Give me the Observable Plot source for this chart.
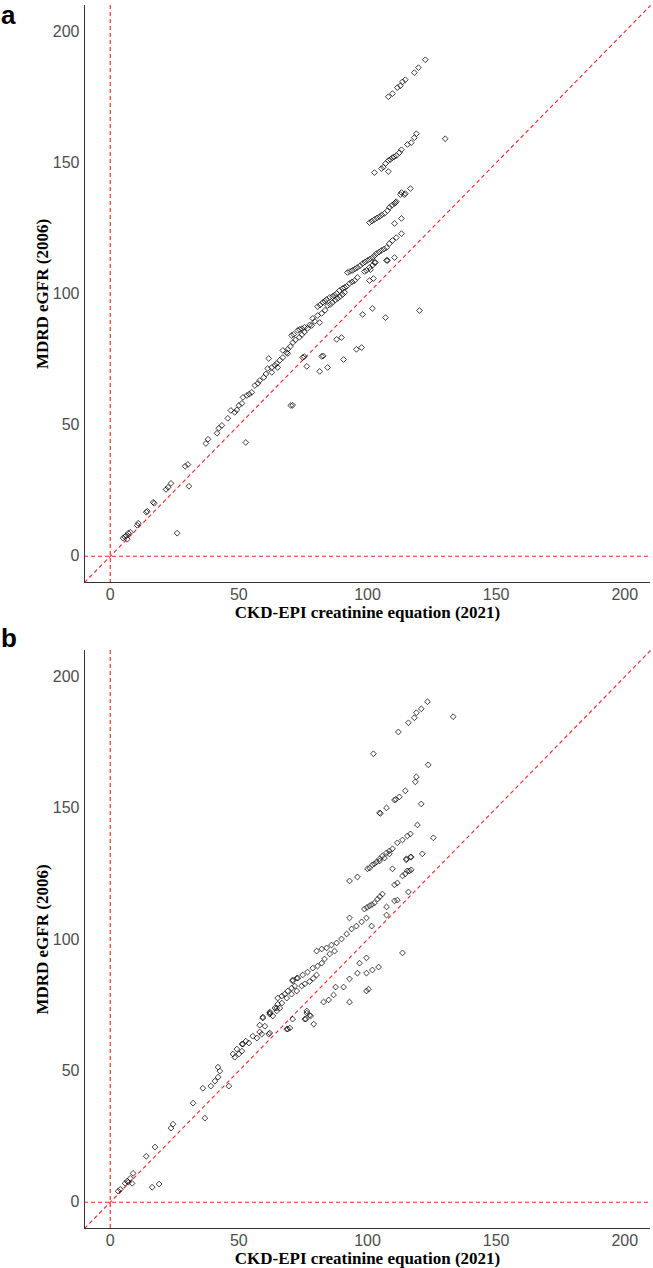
<!DOCTYPE html>
<html>
<head>
<meta charset="utf-8">
<script src="https://cdn.jsdelivr.net/npm/d3@7"></script>
<script src="https://cdn.jsdelivr.net/npm/@observablehq/plot@0.6"></script>
<style>
  html, body { margin: 0; padding: 0; background: #fff; }
  #wrap { position: relative; width: 653px; height: 1268px; overflow: hidden; background: #fff; }
  .tag { position: absolute; left: 1px; font: bold 26px/30px "Liberation Sans", Arial, sans-serif; color: #000; }
  #pa, #pb { position: absolute; left: 0; }
  #pa { top: 0; }
  #pb { top: 645px; }
</style>
</head>
<body>
<div id="wrap">
  <div id="pa"></div>
  <div id="pb"></div>
  <div class="tag" style="top:0px">a</div>
  <div class="tag" style="top:623px">b</div>
</div>
<script>
const panelTags = ["a", "b"];
const xTitle = "CKD-EPI creatinine equation (2021)";
const yTitle = "MDRD eGFR (2006)";
const axisTicks = [0, 50, 100, 150, 200];
const axisLimits = [-10, 210];

// Panel a: [CKD-EPI 2021, MDRD 2006]
const pointsA = [
  [5.0,6.9],[5.6,7.4],[6.2,7.8],[6.6,6.5],[7.0,8.8],[7.8,9.1],[10.5,11.8],[10.9,12.6],[14.0,16.8],[14.4,17.2],
  [16.7,20.6],[17.1,20.2],[21.7,25.5],[22.5,26.3],[23.6,27.8],[29.1,34.3],[30.2,35.0],[30.6,26.7],[26.0,8.8],
  [37.2,43.0],[38.0,44.6],[41.5,46.9],[42.2,48.8],[43.4,49.9],[45.7,52.6],[46.9,55.6],[48.4,54.9],[49.2,55.8],
  [50.0,57.5],[51.2,58.3],[52.7,43.4],[70.2,57.5],[70.9,57.6],
  [51.6,60.6],[53.1,61.3],[54.0,61.8],[55.0,62.5],[56.2,65.1],[57.4,65.9],[58.1,67.0],[59.7,68.2],[60.5,69.5],
  [61.2,71.6],[61.6,75.4],[62.8,72.0],[62.8,70.1],[64.0,72.8],[64.7,73.5],[65.1,72.0],[65.9,74.7],[67.1,75.8],
  [67.1,78.5],[68.6,77.7],[69.0,78.9],[69.0,77.3],[70.5,84.2],[71.3,84.6],[72.9,86.1],
  [70.0,80.0],[71.0,81.5],[72.0,82.5],[73.5,83.5],[74.5,84.5],[75.5,85.5],
  [73.6,86.5],[74.5,86.8],[75.5,87.3],[76.7,86.9],[77.5,88.2],[78.3,88.0],[78.7,90.7],[79.5,89.6],[80.6,91.8],
  [81.4,89.1],[82.2,92.6],[83.5,93.8],[84.5,95.6],[85.5,96.0],[86.4,96.8],[87.4,97.6],[88.4,98.3],[89.3,99.0],
  [90.3,99.8],[91.1,100.6],
  [80.6,95.2],[81.6,95.8],[82.6,96.8],[83.4,97.3],[84.1,97.9],[85.3,98.7],[86.4,99.0],[87.2,99.6],[88.0,100.2],
  [89.1,101.3],[90.3,102.1],[91.1,102.5],[91.9,102.9],[93.0,104.0],[94.0,104.6],[95.0,105.1],[96.1,106.3],
  [92.2,108.2],[93.2,108.6],[94.2,109.0],[95.2,109.6],[96.1,110.1],[97.1,110.8],[98.1,111.6],[99.0,112.2],
  [100.0,112.8],[100.9,113.3],[101.9,113.9],[102.7,114.6],[103.5,115.4],[104.5,116.0],[105.4,116.6],[106.4,117.1],
  [107.4,117.7],[108.5,119.2],[109.7,120.4],[111.2,121.5],
  [98.8,108.6],[99.6,109.0],[100.8,110.1],[101.2,109.3],[102.0,111.0],[102.7,112.0],[103.1,112.0],[107.4,112.8],
  [107.8,112.8],[110.5,113.9],[100.8,105.1],[102.3,105.9],
  [98.1,92.2],[101.9,94.5],[107.0,91.0],[120.2,93.7],[88.0,82.7],[89.9,83.4],[95.7,78.9],[97.7,79.6],[82.2,76.2],
  [82.8,76.4],[90.7,75.0],[76.4,72.4],[81.4,70.5],[84.5,72.0],[74.8,75.8],[75.4,76.1],
  [100.8,127.2],[101.7,127.8],[102.7,128.4],[103.7,129.0],[104.7,129.5],[105.6,130.2],[106.6,130.7],[107.8,131.8],
  [108.5,133.0],[109.5,133.8],[110.5,134.5],[110.9,134.9],[111.2,135.2],[112.8,137.9],[113.2,138.7],[114.3,137.9],
  [114.7,138.3],[116.7,140.2],[110.5,126.9],[113.2,128.8],[113.2,123.0],
  [102.7,146.3],[105.4,147.8],[106.2,148.4],[107.0,149.7],[108.1,146.7],[108.1,150.9],[108.9,151.3],[109.7,152.0],
  [110.4,152.3],[111.2,152.8],[112.4,153.9],[113.2,155.0],[115.5,157.0],[117.0,157.7],[118.2,159.6],[119.0,161.1],
  [130.2,159.2],
  [108.1,175.2],[109.7,176.4],[111.6,178.7],[112.8,179.4],[113.6,180.9],[114.7,181.7],[118.2,184.4],[119.8,186.3],
  [122.5,189.3]
];

// Panel b: [CKD-EPI 2021, MDRD 2006]
const pointsB = [
  [3.1,4.2],[3.9,4.9],[5.8,7.2],[6.6,8.0],[7.0,7.6],[7.8,9.1],[8.5,7.2],[8.9,11.0],[16.3,5.7],[19.0,6.9],
  [14.0,17.5],[17.4,21.0],[23.6,28.2],[24.4,29.7],[32.2,37.7],[36.8,32.0],[36.0,43.4],[39.1,44.2],[40.7,46.1],
  [41.9,47.6],[42.6,49.9],[41.9,51.4],[46.1,44.2],[47.7,56.4],[48.4,55.2],[49.2,58.3],[50.0,56.4],[51.2,57.5],
  [51.2,60.2],[51.6,60.2],[52.7,61.3],[53.9,60.6],[55.4,63.2],[57.0,62.5],[58.1,64.8],[58.9,64.0],[59.3,70.5],
  [60.1,67.0],[58.1,67.4],[61.6,64.0],[62.0,72.0],[63.2,70.9],[64.7,72.8],[65.9,73.9],[69.0,65.9],[69.8,66.3],
  [70.9,69.7],[76.0,69.7],[76.4,72.0],[77.9,70.9],[79.1,67.8],[62.0,64.4],[68.6,65.9],[75.6,69.7],[77.5,71.2],
  [76.4,72.8],
  [59.3,70.1],[62.0,71.6],[62.0,72.4],[64.0,73.9],[64.7,73.9],[65.1,75.4],[66.7,75.8],[65.1,77.7],[66.7,78.5],
  [67.8,79.2],[68.6,77.7],[69.0,80.4],[70.5,79.2],[70.5,81.5],[71.7,82.3],[72.5,80.4],[70.9,84.2],[70.9,84.6],
  [72.5,85.3],[72.9,85.3],[74.4,82.3],[74.8,86.5],[75.6,83.1],[76.7,87.6],[77.5,84.0],[78.7,89.1],[78.9,85.2],
  [80.6,89.9],[80.2,86.5],[82.2,91.0],[83.3,92.6],[85.3,94.5],[87.2,95.6],
  [80.2,95.6],[82.2,96.4],[84.1,96.8],[86.0,97.9],[88.0,98.7],[89.9,100.2],[91.9,102.1],[93.8,104.0],[95.7,105.1],
  [97.7,106.7],[99.6,108.2],[93.0,108.2],
  [98.8,111.6],[99.8,112.2],[100.8,112.8],[101.7,113.3],[102.7,113.9],[103.9,115.4],[104.8,116.3],[105.8,117.3],
  [107.4,112.4],[110.5,114.7],[111.6,115.0],[101.6,105.1],[107.4,109.3],[115.9,118.1],
  [110.5,120.8],[111.6,121.5],[113.6,124.2],[115.5,126.1],[117.0,126.5],[109.7,126.9],[93.0,122.3],[96.1,123.8],
  [100.0,126.9],[100.8,127.2],[101.9,128.4],[102.7,128.8],[103.5,129.5],[104.7,129.9],[104.7,130.7],[105.8,131.8],
  [106.6,131.0],[107.4,133.0],[108.5,132.6],[108.5,133.7],[109.7,134.5],[111.6,136.8],[113.6,137.9],[115.5,139.4],
  [116.7,140.2],[116.7,131.4],[115.1,130.3],[115.1,130.7],[117.0,131.4],[121.3,132.6],[114.7,125.0],[116.3,126.1],
  [119.4,143.6],[125.6,138.7],[104.7,148.2],[105.0,148.0],[107.4,150.1],[110.5,153.1],[111.0,153.3],[112.4,154.3],
  [114.7,156.6],[118.6,160.0],[119.0,161.9],[120.9,151.6],[123.6,166.5],[102.3,170.7],[112.0,179.0],[115.9,182.5],
  [118.2,184.4],[119.0,186.3],[120.9,187.8],[123.3,190.5],[133.3,184.8],
  [96.9,91.0],[99.6,93.0],[93.0,85.0],[96.1,87.2],[99.6,87.2],[101.9,88.4],[104.3,89.5],[87.6,81.9],[90.7,81.9],
  [99.6,80.4],[100.4,81.1],[82.9,76.2],[84.9,77.0],[86.8,78.9],[93.0,76.2],[113.6,94.9]
];

const refColor = "#ff2020";
const dash = "4,3";
const serif = "'Liberation Serif', 'Times New Roman', serif";

function panel(points, height, marginBottom) {
  const pts = points.map(([x, y]) => ({x, y}));
  return Plot.plot({
    width: 653,
    height,
    marginLeft: 84,
    marginRight: 3,
    marginTop: 5,
    marginBottom,
    style: {background: "#fff", fontFamily: "'Liberation Sans', Arial, sans-serif"},
    x: {domain: axisLimits},
    y: {domain: axisLimits},
    marks: [
      Plot.ruleX([0], {stroke: refColor, strokeDasharray: dash, strokeWidth: 1.1}),
      Plot.ruleY([0], {stroke: refColor, strokeDasharray: dash, strokeWidth: 1.1}),
      Plot.link([axisLimits], {x1: d => d[0], y1: d => d[0], x2: d => d[1], y2: d => d[1],
        stroke: refColor, strokeDasharray: dash, strokeWidth: 1.1}),
      Plot.dot(pts, {x: "x", y: "y", symbol: "diamond2", r: 2.6, stroke: "#000", strokeWidth: 0.75, fill: "none"}),
      Plot.ruleX([axisLimits[0]], {stroke: "#333", strokeWidth: 1}),
      Plot.ruleY([axisLimits[0]], {stroke: "#333", strokeWidth: 1}),
      Plot.axisX({ticks: axisTicks, tickSize: 0, tickPadding: 6, fontSize: 16, color: "#4d4d4d", label: null}),
      Plot.axisY({ticks: axisTicks, tickSize: 0, tickPadding: 5, fontSize: 16, color: "#4d4d4d", label: null}),
      Plot.text([xTitle], {frameAnchor: "bottom", dy: 30, fontFamily: serif, textAnchor: "middle",
        fontWeight: "bold", fontSize: 17, fill: "#000", lineAnchor: "middle"}),
      Plot.text([yTitle], {frameAnchor: "left", dx: -42, rotate: -90, fontFamily: serif, textAnchor: "middle",
        fontWeight: "bold", fontSize: 17, fill: "#000", lineAnchor: "middle"})
    ]
  });
}

document.getElementById("pa").appendChild(panel(pointsA, 645, 63));
document.getElementById("pb").appendChild(panel(pointsB, 623, 40));
</script>
</body>
</html>
